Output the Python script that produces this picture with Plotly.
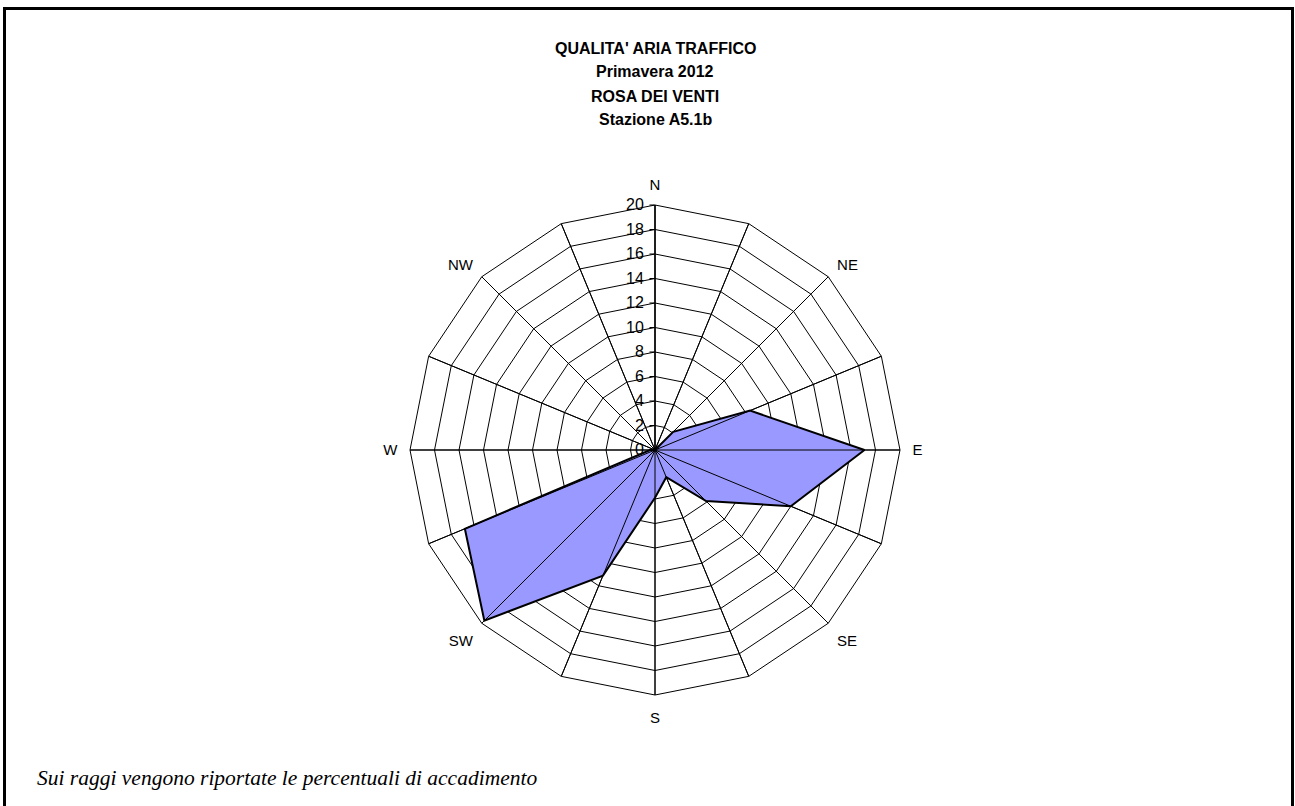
import plotly.graph_objects as go

directions = ["N", "NNE", "NE", "ENE", "E", "ESE", "SE", "SSE",
              "S", "SSW", "SW", "WSW", "W", "WNW", "NW", "NNW"]
direction_labels = ["N", "", "NE", "", "E", "", "SE", "",
                    "S", "", "SW", "", "W", "", "NW", ""]
frequency = [0, 0, 2.1, 8.4, 17.1, 12.0, 5.9, 2.4,
             3.9, 11.1, 19.7, 16.8, 0.4, 0, 0, 0]
radial_ticks = list(range(0, 21, 2))

title_lines = ["QUALITA' ARIA TRAFFICO", "Primavera 2012", "ROSA DEI VENTI", "Stazione A5.1b"]
footnote = "Sui raggi vengono riportate le percentuali di accadimento"

W, H = 1295, 806
cx, cy, R = 655, 450, 245

fig = go.Figure()

# filled wind rose polygon
fig.add_trace(go.Scatterpolar(
    r=frequency + [frequency[0]],
    theta=directions + [directions[0]],
    mode="lines",
    fill="toself",
    fillcolor="#9999FF",
    line=dict(color="black", width=2),
    hoverinfo="skip",
    showlegend=False,
))

# spokes drawn over the fill
sr, st = [], []
for d in directions:
    sr += [0, radial_ticks[-1], None]
    st += [d, d, None]
fig.add_trace(go.Scatterpolar(
    r=sr, theta=st, mode="lines",
    line=dict(color="black", width=1),
    connectgaps=False, hoverinfo="skip", showlegend=False,
))

fig.update_layout(
    width=W, height=H,
    margin=dict(l=0, r=0, t=0, b=0),
    paper_bgcolor="white",
    plot_bgcolor="white",
    showlegend=False,
    polar=dict(
        domain=dict(x=[(cx - R) / W, (cx + R) / W],
                    y=[(H - cy - R) / H, (H - cy + R) / H]),
        bgcolor="white",
        gridshape="linear",
        angularaxis=dict(
            type="category",
            categoryorder="array",
            categoryarray=directions,
            rotation=90,
            direction="clockwise",
            tickmode="array",
            tickvals=directions,
            ticktext=direction_labels,
            ticks="outside",
            ticklen=9,
            tickcolor="rgba(0,0,0,0)",
            showline=True,
            linecolor="black",
            linewidth=1,
            showgrid=True,
            gridcolor="black",
            gridwidth=1,
            tickfont=dict(family="Liberation Sans, Arial", size=15, color="black"),
        ),
        radialaxis=dict(
            range=[0, 20],
            angle=90,
            side="counterclockwise",
            tickmode="array",
            tickvals=radial_ticks,
            ticks="outside",
            ticklen=5,
            tickcolor="black",
            showline=True,
            linecolor="black",
            linewidth=1,
            showgrid=True,
            gridcolor="black",
            gridwidth=1,
            tickangle=90,
            tickfont=dict(family="Liberation Sans, Arial", size=16, color="black"),
        ),
    ),
)

# title lines
for i, t in enumerate(title_lines):
    fig.add_annotation(
        text=f"<b>{t}</b>", x=cx / W, y=1 - (48 + 24 * i) / H,
        xref="paper", yref="paper", xanchor="center", yanchor="middle",
        showarrow=False,
        font=dict(family="Liberation Sans, Arial", size=16, color="black"),
    )

fig.add_annotation(
    text=f"<i>{footnote}</i>", x=35 / W, y=1 - 778 / H,
    xref="paper", yref="paper", xanchor="left", yanchor="middle",
    showarrow=False,
    font=dict(family="Liberation Serif, Times New Roman", size=21.5, color="black"),
)

# outer frame
fig.add_shape(type="rect", xref="paper", yref="paper",
              x0=4.5 / W, x1=1292.5 / W, y0=-0.02, y1=1 - 8.5 / H,
              line=dict(color="black", width=3), fillcolor="rgba(0,0,0,0)")

fig.write_html("out.html",
               config={"displayModeBar": False},
               post_script="document.body.style.margin='0';document.body.style.overflow='hidden';")
